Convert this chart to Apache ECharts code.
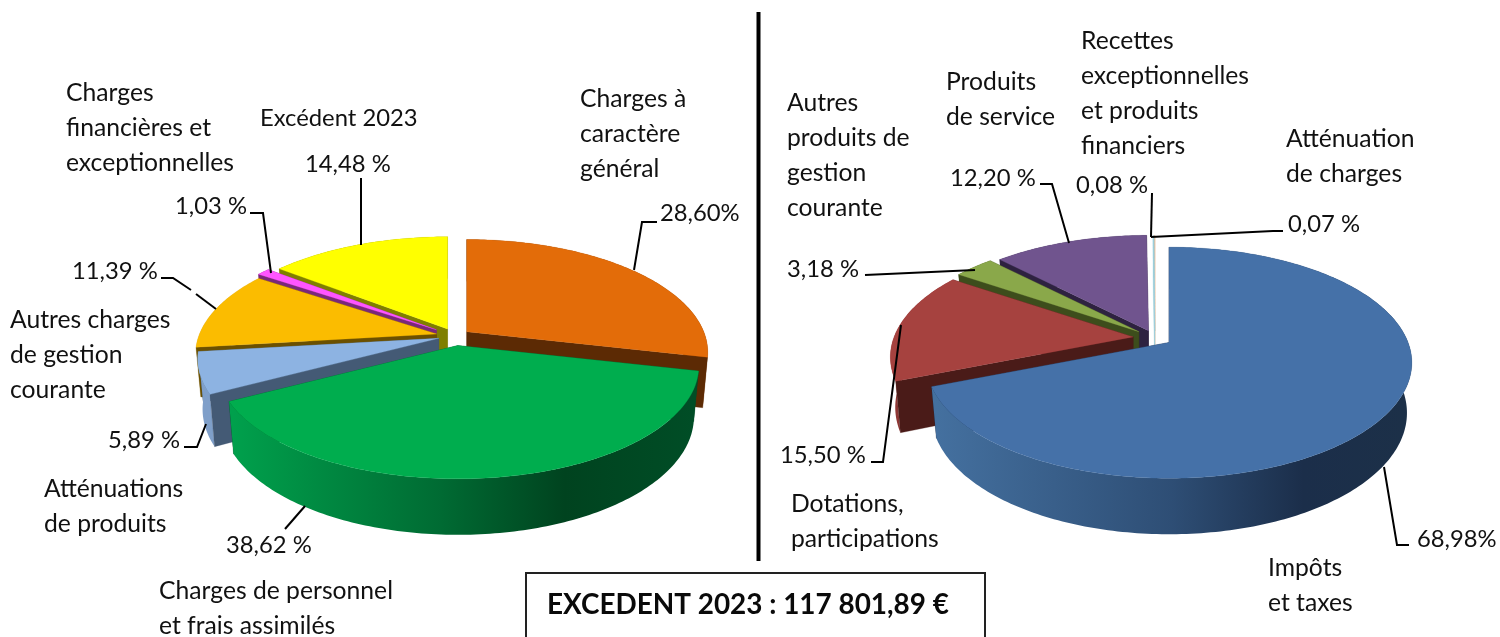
<!DOCTYPE html>
<html><head><meta charset="utf-8">
<style>html,body{margin:0;padding:0;background:#fff}#c{width:1500px;height:637px}</style>
<script src="https://cdn.jsdelivr.net/npm/echarts@6/dist/echarts.min.js"></script>
</head><body><div id="c"></div>
<script>
// ---- data ----
const depensesNames = ["Charges à caractère général","Charges de personnel et frais assimilés","Atténuations de produits","Autres charges de gestion courante","Charges financières et exceptionnelles","Excédent 2023"];
const depensesValues = [28.60,38.62,5.89,11.39,1.03,14.48];
const recettesNames = ["Impôts et taxes","Dotations, participations","Autres produits de gestion courante","Produits de service","Recettes exceptionnelles et produits financiers","Atténuation de charges"];
const recettesValues = [68.98,15.50,3.18,12.20,0.08,0.07];
const excedentText = "EXCEDENT 2023 : 117 801,89 €";

// ---- style ----
const depensesTop  = ["#E36C09","#00AD4E","#8DB3E2","#FBBC00","#FF55FF","#FFFF00"];
const depensesSide = ["#5C2A04","#004A24","#445A75","#6B5000","#7A287A","#7F7F00"];
const depensesWall = ["#7C3B06",[["#00A04C",0],["#006B33",0.45],["#00431F",0.72],["#004D26",1]],"#7F9FC9","#C9B27A","#7A287A","#7F7F00"];
const recettesTop  = ["#4571A8","#A6423F","#8AA84A","#70548E","#9CCFDC","#F5B98A"];
const recettesSide = ["#1B2D48","#4A1B18","#3D4D1C","#2E2240","#9CCFDC","#F5B98A"];
const recettesWall = [[["#44709F",0],["#2E4E75",0.5],["#1B2E4A",0.78],["#1C3048",1]],"#8F3835","#3D4D1C","#2E2240","#9CCFDC","#F5B98A"];
const depensesExplode = [15,21,17,19,23,17];
const recettesExplode = [17,22,21,17,15,15];
const depensesPie = {cx:455,cy:336,R:237,rho:109,persp:0.182,shrink:0.98,d0:49,d1:7};
const recettesPie = {cx:1155,cy:338,R:239,rho:112,persp:0.175,shrink:0.98,d0:49,d1:7};

const FONT = "Lato";
const WORD_SIZE = 24.7, NUM_SIZE = 23.8;
const texts = [
 ["Charges\nfinancières et\nexceptionnelles",66,93],["Excédent 2023",260,118],["14,48 %",305,164],["1,03 %",175,206],
 ["11,39 %",72,271],["Autres charges\nde gestion\ncourante",10,320],["5,89 %",108,440],["Atténuations\nde produits",44,489],
 ["38,62 %",226,545],["Charges de personnel\net frais assimilés",159,591],["Charges à\ncaractère\ngénéral",580,99],["28,60%",660,213],
 ["Autres\nproduits de\ngestion\ncourante",787,103],["Produits\nde service",946,82],["Recettes\nexceptionnelles\net produits\nfinanciers",1081,41],
 ["Atténuation\nde charges",1286,139],["12,20 %",950,178],["0,08 %",1076,185],["0,07 %",1288,224],["3,18 %",787,269],
 ["15,50 %",780,455],["Dotations,\nparticipations",791,504],["68,98%",1417,539],["Impôts\net taxes",1268,568]
];
const leaders = [
 [[657,222],[642,222],[634,270]],[[361,178],[361,245]],[[250,213],[263,213],[271,273]],[[161,278],[173,278],[191,290]],[[196,294],[216,309]],
 [[184,447],[197,447],[206,424]],[[285,529],[305,506]],
 [[1040,184],[1052,184],[1069,243]],[[1152,193],[1151,237]],[[1151,237],[1273,231],[1283,231]],[[865,275],[975,270]],
 [[871,462],[883,462],[901,325]],[[1384,467],[1397,545],[1409,545]]
];

function buildItems(values,explode,top,side,wall){
  const total = values.reduce((a,b)=>a+b,0);
  let acc = 0;
  const items = values.map((v,i)=>{
    const a0 = acc/total*Math.PI*2; acc += v; const a1 = acc/total*Math.PI*2;
    return {value:v,a0,a1,explode:explode[i],top:top[i],side:side[i],wall:wall[i]};
  });
  // painter's order: back slices first
  return items.sort((p,q)=>(-Math.cos((p.a0+p.a1)/2))-(-Math.cos((q.a0+q.a1)/2)));
}

function makeSeries(items,pie){
  const proj = th=>{const u=Math.sin(th),v=-Math.cos(th),k=1/(1-pie.persp*v);return [pie.R*u*k,pie.rho*v*k,v];};
  return {
    type:'custom', coordinateSystem:'none', silent:true, animation:false,
    data: items.map(s=>[s.value]),
    renderItem(params,api){
      const s = items[params.dataIndex];
      const mid = (s.a0+s.a1)/2;
      const ax = pie.cx+s.explode*Math.sin(mid), ay = pie.cy-s.explode*Math.cos(mid)*pie.rho/pie.R;
      const n = Math.max(2,Math.ceil((s.a1-s.a0)/(Math.PI/180)));
      const topArc=[],botArc=[];
      for(let i=0;i<=n;i++){
        const [px,py,v]=proj(s.a0+(s.a1-s.a0)*i/n);
        topArc.push([ax+px,ay+py]);
        botArc.push([ax+px*pie.shrink,ay+py+pie.d0+pie.d1*v]);
      }
      const apexB=[ax,ay+pie.d0];
      const radial=(idx)=>({type:'polygon',shape:{points:[[ax,ay],topArc[idx],botArc[idx],apexB]},style:{fill:s.side,stroke:s.side,lineWidth:0.3}});
      let wallFill = s.wall;
      if(Array.isArray(s.wall)){
        const xs=botArc.map(p=>p[0]);
        const x0=Math.min(...xs),x1=Math.max(...xs);
        wallFill={type:'linear',x:x0,y:0,x2:x1,y2:0,global:true,colorStops:s.wall.map(c=>({color:c[0],offset:c[1]}))};
      }
      const children=[];
      const startVisible=Math.sin(s.a0)<0, endVisible=Math.sin(s.a1)>0;
      if(!startVisible) children.push(radial(0));
      if(!endVisible) children.push(radial(n));
      children.push({type:'polygon',shape:{points:topArc.concat(botArc.slice().reverse())},style:{fill:wallFill}});
      if(startVisible) children.push(radial(0));
      if(endVisible) children.push(radial(n));
      children.push({type:'polygon',shape:{points:[[ax,ay]].concat(topArc)},style:{fill:s.top,stroke:s.top,lineWidth:0.3}});
      return {type:'group',children};
    }
  };
}

const LINE_PITCH = 35;
const graphics=[];
leaders.forEach(pts=>graphics.push({type:'polyline',silent:true,z:10,shape:{points:pts},style:{fill:null,stroke:'#000',lineWidth:2}}));
texts.forEach(t=>{
  t[0].split('\n').forEach((line,i)=>{
    const size=/\d/.test(line)?NUM_SIZE:WORD_SIZE;
    graphics.push({type:'text',silent:true,z:11,x:t[1],y:t[2]+i*LINE_PITCH,style:{text:line,font:size+'px '+FONT,fill:'#111',verticalAlign:'middle'}});
  });
});
graphics.push({type:'line',silent:true,z:10,shape:{x1:758.5,y1:12,x2:758.5,y2:561},style:{stroke:'#000',lineWidth:4}});
graphics.push({type:'rect',silent:true,z:10,shape:{x:526,y:573,width:459,height:90},style:{fill:'#fff',stroke:'#222',lineWidth:2}});
graphics.push({type:'text',silent:true,z:11,x:547,y:605,style:{text:excedentText,font:'bold 27.9px '+FONT,fill:'#0a0a0a',verticalAlign:'middle'}});

const chart = echarts.init(document.getElementById('c'),null,{renderer:'canvas'});
chart.setOption({
  animation:false,
  backgroundColor:'#fff',
  series:[
    makeSeries(buildItems(depensesValues,depensesExplode,depensesTop,depensesSide,depensesWall),depensesPie),
    makeSeries(buildItems(recettesValues,recettesExplode,recettesTop,recettesSide,recettesWall),recettesPie)
  ],
  graphic:{elements:graphics}
});
</script></body></html>
